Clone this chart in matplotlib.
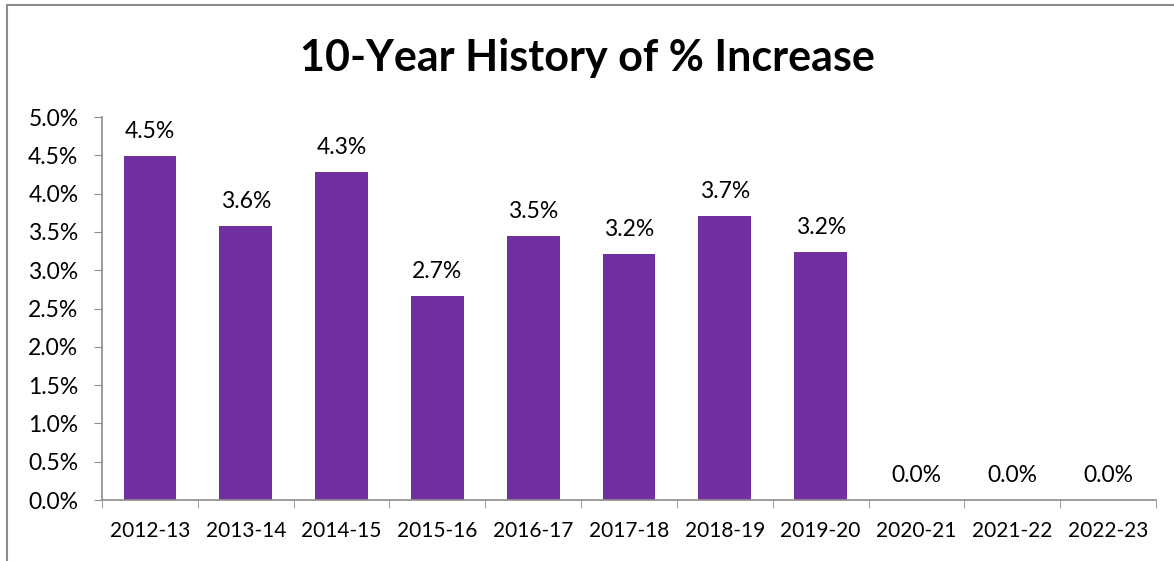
import matplotlib.pyplot as plt
import matplotlib.patches as patches
from matplotlib.ticker import FuncFormatter, MultipleLocator
import numpy as np

# values (percent increase per year)
years = ["2012-13", "2013-14", "2014-15", "2015-16", "2016-17", "2017-18",
         "2018-19", "2019-20", "2020-21", "2021-22", "2022-23"]
increase = [4.49, 3.58, 4.28, 2.67, 3.45, 3.21, 3.71, 3.24, 0.0, 0.0, 0.0]
labels = ["4.5%", "3.6%", "4.3%", "2.7%", "3.5%", "3.2%", "3.7%", "3.2%",
          "0.0%", "0.0%", "0.0%"]

plt.rcParams['font.family'] = ['Lato', 'DejaVu Sans']

fig = plt.figure(figsize=(11.74, 5.61), dpi=100)
ax = fig.add_axes([0.0869, 0.1087, 0.8978, 0.6827])

x = np.arange(len(years))
bars = ax.bar(x, increase, width=0.55, color='#7030A0')

for xi, v, lab in zip(x, increase, labels):
    ax.annotate(lab, (xi, v), xytext=(0, 10), textcoords='offset points',
                ha='center', va='bottom', fontsize=16.5)

ax.set_xlim(-0.5, len(years) - 0.5)
ax.set_ylim(0, 5.0)
ax.yaxis.set_major_locator(MultipleLocator(0.5))
ax.yaxis.set_major_formatter(FuncFormatter(lambda v, p: f"{v:.1f}%"))
ax.set_xticks(x)
ax.set_xticklabels(years)
ax.set_xticks(np.arange(-0.5, len(years)), minor=True)
ax.tick_params(axis='x', which='major', length=0, labelsize=15, pad=15)
ax.tick_params(axis='x', which='minor', length=6, color='#8c8c8c')
ax.tick_params(axis='y', length=6, color='#8c8c8c', labelsize=16.5, pad=11)

for side in ['top', 'right']:
    ax.spines[side].set_visible(False)
for side in ['left', 'bottom']:
    ax.spines[side].set_color('#8c8c8c')
    ax.spines[side].set_linewidth(1.2)

fig.text(0.5, 0.897, "10-Year History of % Increase", ha='center', va='center',
         fontsize=31, fontweight='bold')

# outer chart border (cut off at right and bottom like the screenshot)
border = patches.Rectangle((0.006, -0.1), 1.1, 1.091, transform=fig.transFigure,
                           fill=False, edgecolor='#8c8c8c', linewidth=1.5)
fig.patches.append(border)

fig.savefig('out.png', dpi=100)
